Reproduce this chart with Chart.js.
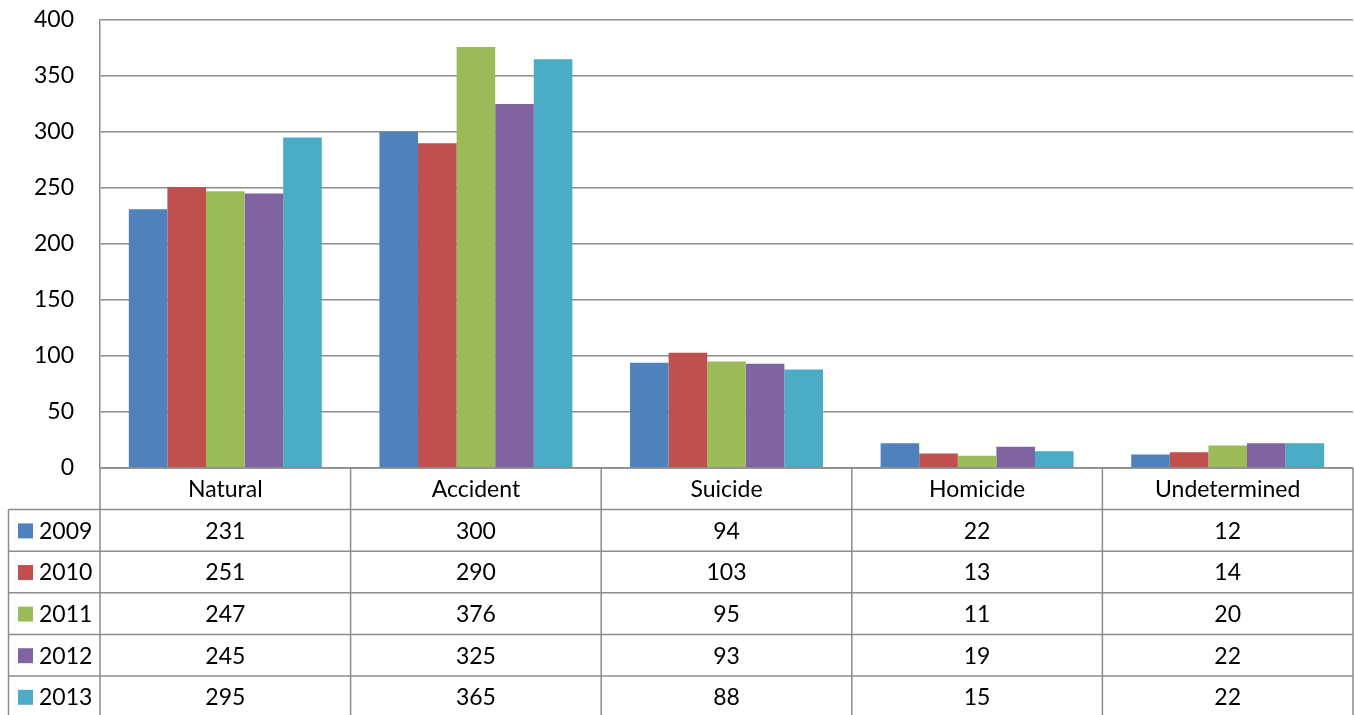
<!DOCTYPE html>
<html>
<head>
<meta charset="utf-8">
<script src="https://cdn.jsdelivr.net/npm/chart.js@4.4.1/dist/chart.umd.min.js"></script>
<style>
  html, body { margin: 0; padding: 0; background: #fff; }
  #wrap { width: 1354px; height: 715px; }
</style>
</head>
<body>
<div id="wrap"><canvas id="c" width="1354" height="715"></canvas></div>
<script>
// Deaths by manner, per year
const categories = ['Natural', 'Accident', 'Suicide', 'Homicide', 'Undetermined'];
const years = ['2009', '2010', '2011', '2012', '2013'];
const v2009 = [231, 300, 94, 22, 12];
const v2010 = [251, 290, 103, 13, 14];
const v2011 = [247, 376, 95, 11, 20];
const v2012 = [245, 325, 93, 19, 22];
const v2013 = [295, 365, 88, 15, 22];
const yTicks = [0, 50, 100, 150, 200, 250, 300, 350, 400];

const seriesValues = [v2009, v2010, v2011, v2012, v2013];
const colors = ['#4F81BD', '#C0504D', '#9BBB59', '#8064A2', '#4BACC6'];
const FONT = '23px Lato, "Open Sans", sans-serif';
const LINE = '#8c8c8c';

// Data table drawn under the plot, aligned to the category scale
const dataTable = {
  id: 'dataTable',
  afterDraw(chart) {
    const ctx = chart.ctx;
    const xs = chart.scales.x;
    const area = chart.chartArea;
    const n = categories.length;
    const colW = (area.right - area.left) / n;
    const top = area.bottom;
    const rowH = 41.6;
    const leftEdge = 8.5;
    const bottom = chart.height + 2;

    ctx.save();
    ctx.strokeStyle = LINE;
    ctx.lineWidth = 1.5;

    // header row top is the category axis line
    ctx.beginPath();
    ctx.moveTo(area.left, top);
    ctx.lineTo(area.right, top);
    // horizontal row separators
    for (let r = 1; r <= years.length; r++) {
      const y = top + r * rowH;
      ctx.moveTo(leftEdge, y);
      ctx.lineTo(area.right, y);
    }
    // outer left of legend column
    ctx.moveTo(leftEdge, top + rowH);
    ctx.lineTo(leftEdge, bottom);
    // value axis continues down as table divider
    ctx.moveTo(area.left, top);
    ctx.lineTo(area.left, bottom);
    // column boundaries
    for (let i = 0; i < n; i++) {
      const x = xs.getPixelForValue(i) + colW / 2;
      ctx.moveTo(x, top);
      ctx.lineTo(x, bottom);
    }
    ctx.stroke();

    ctx.font = FONT;
    ctx.fillStyle = '#000';
    ctx.textBaseline = 'middle';
    ctx.textAlign = 'center';
    // category header
    categories.forEach((c, i) => {
      ctx.fillText(c, xs.getPixelForValue(i), top + rowH / 2 + 1);
    });
    // rows
    years.forEach((yr, r) => {
      const cy = top + (r + 1.5) * rowH + 1;
      ctx.fillStyle = colors[r];
      ctx.fillRect(18, cy - 8, 15, 15);
      ctx.fillStyle = '#000';
      ctx.textAlign = 'left';
      ctx.fillText(yr, 39, cy);
      ctx.textAlign = 'center';
      seriesValues[r].forEach((v, i) => {
        ctx.fillText(String(v), xs.getPixelForValue(i), cy);
      });
    });
    ctx.restore();
  }
};

new Chart(document.getElementById('c'), {
  type: 'bar',
  data: {
    labels: categories,
    datasets: years.map((yr, i) => ({
      label: yr,
      data: seriesValues[i],
      backgroundColor: colors[i],
      borderWidth: 0,
      categoryPercentage: 0.77,
      barPercentage: 1.0
    }))
  },
  options: {
    responsive: false,
    animation: false,
    layout: { padding: { left: 0, right: 1, top: 20, bottom: 247 } },
    plugins: { legend: { display: false }, tooltip: { enabled: false } },
    scales: {
      x: {
        display: false
      },
      y: {
        min: 0,
        max: 400,
        afterBuildTicks(scale) { scale.ticks = yTicks.map(v => ({ value: v })); },
        afterFit(scale) {
          scale.width = 100;
          scale.paddingTop = 0;
          scale.paddingBottom = 0;
        },
        border: { display: true, color: LINE, width: 1.5 },
        grid: { color: LINE, lineWidth: 1.5, drawTicks: false },
        ticks: {
          padding: 26,
          color: '#000',
          font: { family: 'Lato, "Open Sans", sans-serif', size: 23 }
        }
      }
    }
  },
  plugins: [dataTable]
});
</script>
</body>
</html>
